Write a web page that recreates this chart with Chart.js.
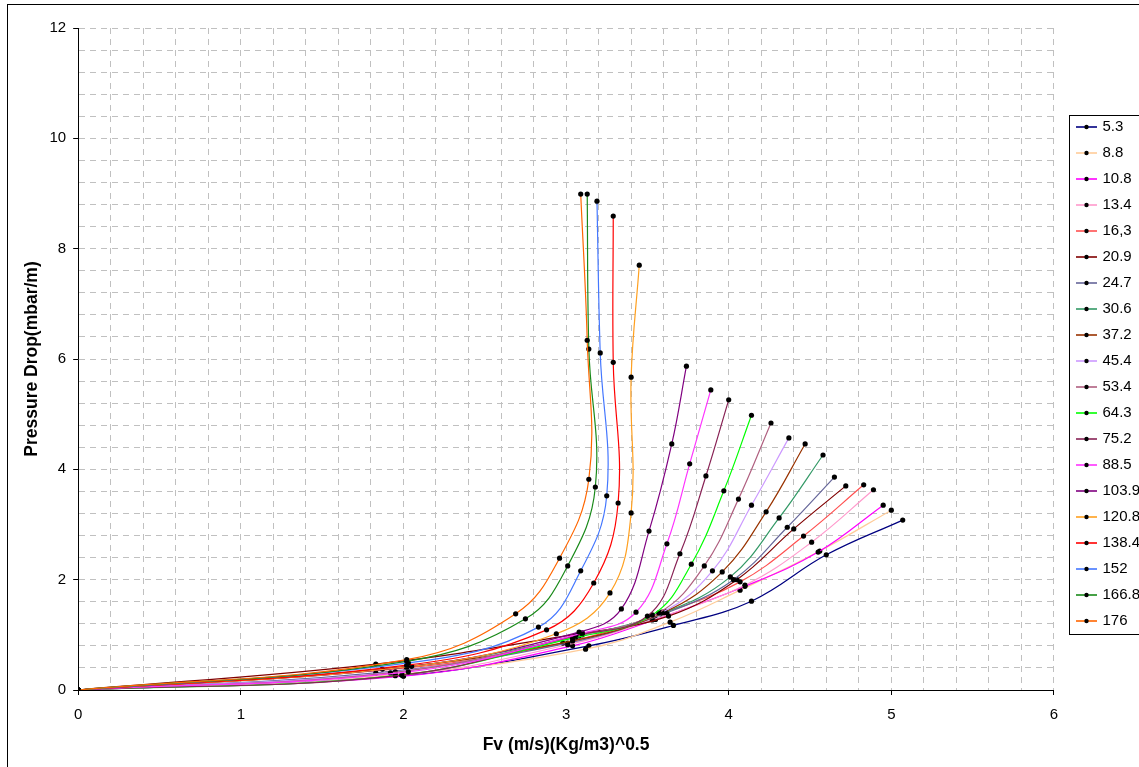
<!DOCTYPE html>
<html><head><meta charset="utf-8">
<script src="https://cdn.jsdelivr.net/npm/chart.js@4/dist/chart.umd.min.js"></script>
<style>
html,body{margin:0;padding:0;background:#fff;overflow:hidden;}
#wrap{position:relative;width:1150px;height:767px;}
</style></head><body>
<div id="wrap"><canvas id="c"></canvas></div>
<script>
// Series labels (liquid load) and colours
const seriesNames = ['5.3','8.8','10.8','13.4','16,3','20.9','24.7','30.6','37.2','45.4','53.4','64.3','75.2','88.5','103.9','120.8','138.4','152','166.8','176'];
const seriesColors = ['#000080','#FFCC99','#FF00FF','#FF99CC','#FF5050','#800000','#666699','#339966','#993300','#CC99FF','#B06080','#00FF00','#882255','#FF33FF','#800080','#FFA020','#FF0000','#4477FF','#1A8A1A','#FF6600'];

// Fv (m/s)(Kg/m3)^0.5 and pressure drop (mbar/m) per series
const fv_5_3   = [0,2.00,3.14,3.66,4.14,4.60,5.07];
const dp_5_3   = [0,0.26,0.80,1.17,1.61,2.45,3.08];
const fv_8_8   = [0,1.95,3.12,3.64,4.07,4.56,5.00];
const dp_8_8   = [0,0.28,0.74,1.23,1.81,2.52,3.26];
const fv_10_8  = [0,2.00,3.04,3.55,4.10,4.55,4.95];
const dp_10_8  = [0,0.25,0.80,1.28,1.88,2.50,3.35];
const fv_13_4  = [0,1.99,3.01,3.53,4.10,4.51,4.89];
const dp_13_4  = [0,0.27,0.82,1.27,1.90,2.68,3.63];
const fv_16_3  = [0,2.02,2.98,3.58,4.07,4.46,4.83];
const dp_16_3  = [0,0.40,0.85,1.38,1.96,2.79,3.72];
const fv_20_9  = [0,1.83,3.10,3.63,4.05,4.40,4.72];
const dp_20_9  = [0,0.47,1.03,1.34,2.00,2.92,3.70];
const fv_24_7  = [0,1.83,3.01,3.62,4.03,4.36,4.65];
const dp_24_7  = [0,0.31,0.85,1.40,2.00,2.95,3.86];
const fv_30_6  = [0,2.02,3.08,3.60,4.01,4.31,4.58];
const dp_30_6  = [0,0.42,0.98,1.40,2.05,3.12,4.26];
const fv_37_2  = [0,1.87,3.04,3.61,3.96,4.23,4.47];
const dp_37_2  = [0,0.38,0.89,1.42,2.14,3.23,4.46];
const fv_45_4  = [0,1.95,3.06,3.59,3.90,4.14,4.37];
const dp_45_4  = [0,0.33,0.96,1.41,2.16,3.35,4.57];
const fv_53_4  = [0,1.92,3.10,3.57,3.85,4.06,4.26];
const dp_53_4  = [0,0.31,1.00,1.40,2.25,3.46,4.84];
const fv_64_3  = [0,1.95,3.04,3.53,3.77,3.97,4.14];
const dp_64_3  = [0,0.26,0.94,1.36,2.28,3.61,4.98];
const fv_75_2  = [0,1.99,3.06,3.50,3.70,3.86,4.00];
const dp_75_2  = [0,0.27,0.99,1.34,2.47,3.88,5.26];
const fv_88_5  = [0,2.03,3.10,3.43,3.62,3.76,3.89];
const dp_88_5  = [0,0.33,1.03,1.41,2.65,4.10,5.44];
const fv_103_9 = [0,2.02,3.08,3.34,3.51,3.65,3.74];
const dp_103_9 = [0,0.42,1.05,1.47,2.88,4.46,5.87];
const fv_120_8 = [0,2.05,2.94,3.27,3.40,3.40,3.45];
const dp_120_8 = [0,0.43,1.02,1.76,3.21,5.67,7.70];
const fv_138_4 = [0,2.02,2.88,3.17,3.32,3.29,3.29];
const dp_138_4 = [0,0.45,1.09,1.94,3.39,5.94,8.59];
const fv_152   = [0,2.03,2.83,3.09,3.25,3.21,3.19];
const dp_152   = [0,0.49,1.14,2.16,3.52,6.11,8.86];
const fv_166_8 = [0,2.02,2.75,3.01,3.18,3.14,3.13];
const dp_166_8 = [0,0.52,1.29,2.25,3.68,6.18,8.99];
const fv_176   = [0,2.02,2.69,2.96,3.14,3.13,3.09];
const dp_176   = [0,0.55,1.38,2.39,3.82,6.34,8.99];

const fvSeries = [fv_5_3,fv_8_8,fv_10_8,fv_13_4,fv_16_3,fv_20_9,fv_24_7,fv_30_6,fv_37_2,fv_45_4,fv_53_4,fv_64_3,fv_75_2,fv_88_5,fv_103_9,fv_120_8,fv_138_4,fv_152,fv_166_8,fv_176];
const dpSeries = [dp_5_3,dp_8_8,dp_10_8,dp_13_4,dp_16_3,dp_20_9,dp_24_7,dp_30_6,dp_37_2,dp_45_4,dp_53_4,dp_64_3,dp_75_2,dp_88_5,dp_103_9,dp_120_8,dp_138_4,dp_152,dp_166_8,dp_176];

// axis ranges / tick steps
const xMin = 0, xMax = 6, xGridStep = 0.2, xLabelStep = 1;
const yMin = 0, yMax = 12, yGridStep = 0.4, yLabelStep = 2;

const FONT = "'Liberation Sans', Arial, sans-serif";

// legend icons: coloured line with black dot
function makeIcon(color){
  const c = document.createElement('canvas');
  c.width = 34; c.height = 10;
  const g = c.getContext('2d');
  g.strokeStyle = color; g.lineWidth = 1.6;
  g.beginPath(); g.moveTo(13, 5); g.lineTo(34, 5); g.stroke();
  g.fillStyle = '#000';
  g.beginPath(); g.arc(23.5, 5, 2.2, 0, Math.PI*2); g.fill();
  return c;
}
const icons = seriesColors.map(makeIcon);

const datasets = seriesNames.map((name, i) => ({
  label: name,
  data: fvSeries[i].map((x, k) => ({x, y: dpSeries[i][k]})),
  showLine: true,
  borderColor: seriesColors[i],
  backgroundColor: '#000',
  borderWidth: 1.2,
  tension: 0.4,
  pointRadius: 2.6,
  pointBorderWidth: 0,
  pointBackgroundColor: '#000',
  pointHoverRadius: 2.6,
  order: seriesNames.length - i
}));

const isMult = (v, s) => Math.abs(v / s - Math.round(v / s)) < 1e-6;

const frame = {
  id: 'frame',
  beforeDraw(chart){
    const ctx = chart.ctx;
    ctx.save();
    ctx.fillStyle = '#fff';
    ctx.fillRect(0,0,chart.width,chart.height);
    ctx.strokeStyle = '#000';
    ctx.lineWidth = 1;
    ctx.strokeRect(7.5, 4.5, chart.width + 20, chart.height + 20);
    ctx.restore();
  },
  afterDraw(chart){
    const lg = chart.legend;
    if (!lg || !lg.legendHitBoxes || !lg.legendHitBoxes.length) return;
    const hb = lg.legendHitBoxes;
    const first = hb[0], last = hb[hb.length-1];
    const ctx = chart.ctx;
    ctx.save();
    ctx.strokeStyle = '#000';
    ctx.lineWidth = 1;
    const l = Math.round(first.left) + 4.5;
    const t = Math.round(first.top) - 4.5;
    const b = Math.round(last.top + last.height) + 5.5;
    ctx.strokeRect(l, t, chart.width + 20, b - t);
    ctx.restore();
  }
};

new Chart(document.getElementById('c'), {
  type: 'scatter',
  data: { datasets },
  plugins: [frame],
  options: {
    responsive: true,
    maintainAspectRatio: false,
    animation: false,
    events: [],
    layout: { padding: { left: 17, top: 28, right: 0, bottom: 0 } },
    plugins: {
      tooltip: { enabled: false },
      legend: {
        position: 'right',
        align: 'start',
        title: { display: true, text: '', padding: { top: 63.7, bottom: 0 }, font: { family: FONT, size: 14 } },
        labels: {
          usePointStyle: true,
          pointStyleWidth: 30,
          padding: 11,
          color: '#000',
          font: { family: FONT, size: 15 },
          generateLabels: (chart) => chart.data.datasets.map((ds, i) => ({
            text: ds.label,
            pointStyle: icons[i],
            fillStyle: ds.borderColor,
            strokeStyle: ds.borderColor,
            lineWidth: 0,
            hidden: false,
            datasetIndex: i,
            fontColor: '#000'
          }))
        }
      }
    },
    scales: {
      x: {
        type: 'linear',
        min: xMin, max: xMax,
        ticks: {
          stepSize: xGridStep,
          autoSkip: false,
          maxRotation: 0,
          padding: 11,
          color: '#000',
          font: { family: FONT, size: 15 },
          callback: (v) => isMult(v, xLabelStep) ? String(Math.round(v)) : ''
        },
        grid: {
          color: '#C0C0C0',
          lineWidth: 1,
          drawTicks: true,
          tickLength: 5,
          tickBorderDash: [],
          tickColor: (ctx) => (ctx.tick && isMult(ctx.tick.value, xLabelStep)) ? '#000' : 'rgba(0,0,0,0)'
        },
        border: { display: true, color: '#000', width: 1, dash: [6, 5] },
        title: {
          display: true,
          text: 'Fv (m/s)(Kg/m3)^0.5',
          color: '#000',
          font: { family: FONT, size: 17.5, weight: 'bold' },
          padding: { top: 0, bottom: 11 }
        }
      },
      y: {
        type: 'linear',
        min: yMin, max: yMax,
        ticks: {
          stepSize: yGridStep,
          autoSkip: false,
          padding: 7,
          color: '#000',
          font: { family: FONT, size: 15 },
          callback: (v) => isMult(v, yLabelStep) ? String(Math.round(v)) : ''
        },
        grid: {
          color: '#C0C0C0',
          lineWidth: 1,
          drawTicks: true,
          tickLength: 5,
          tickBorderDash: [],
          tickColor: (ctx) => (ctx.tick && isMult(ctx.tick.value, yLabelStep)) ? '#000' : 'rgba(0,0,0,0)'
        },
        border: { display: true, color: '#000', width: 1, dash: [6, 5] },
        title: {
          display: true,
          text: 'Pressure Drop(mbar/m)',
          color: '#000',
          font: { family: FONT, size: 17.5, weight: 'bold' },
          padding: { top: 4.5, bottom: 0 }
        }
      }
    }
  }
});
</script>
</body></html>
